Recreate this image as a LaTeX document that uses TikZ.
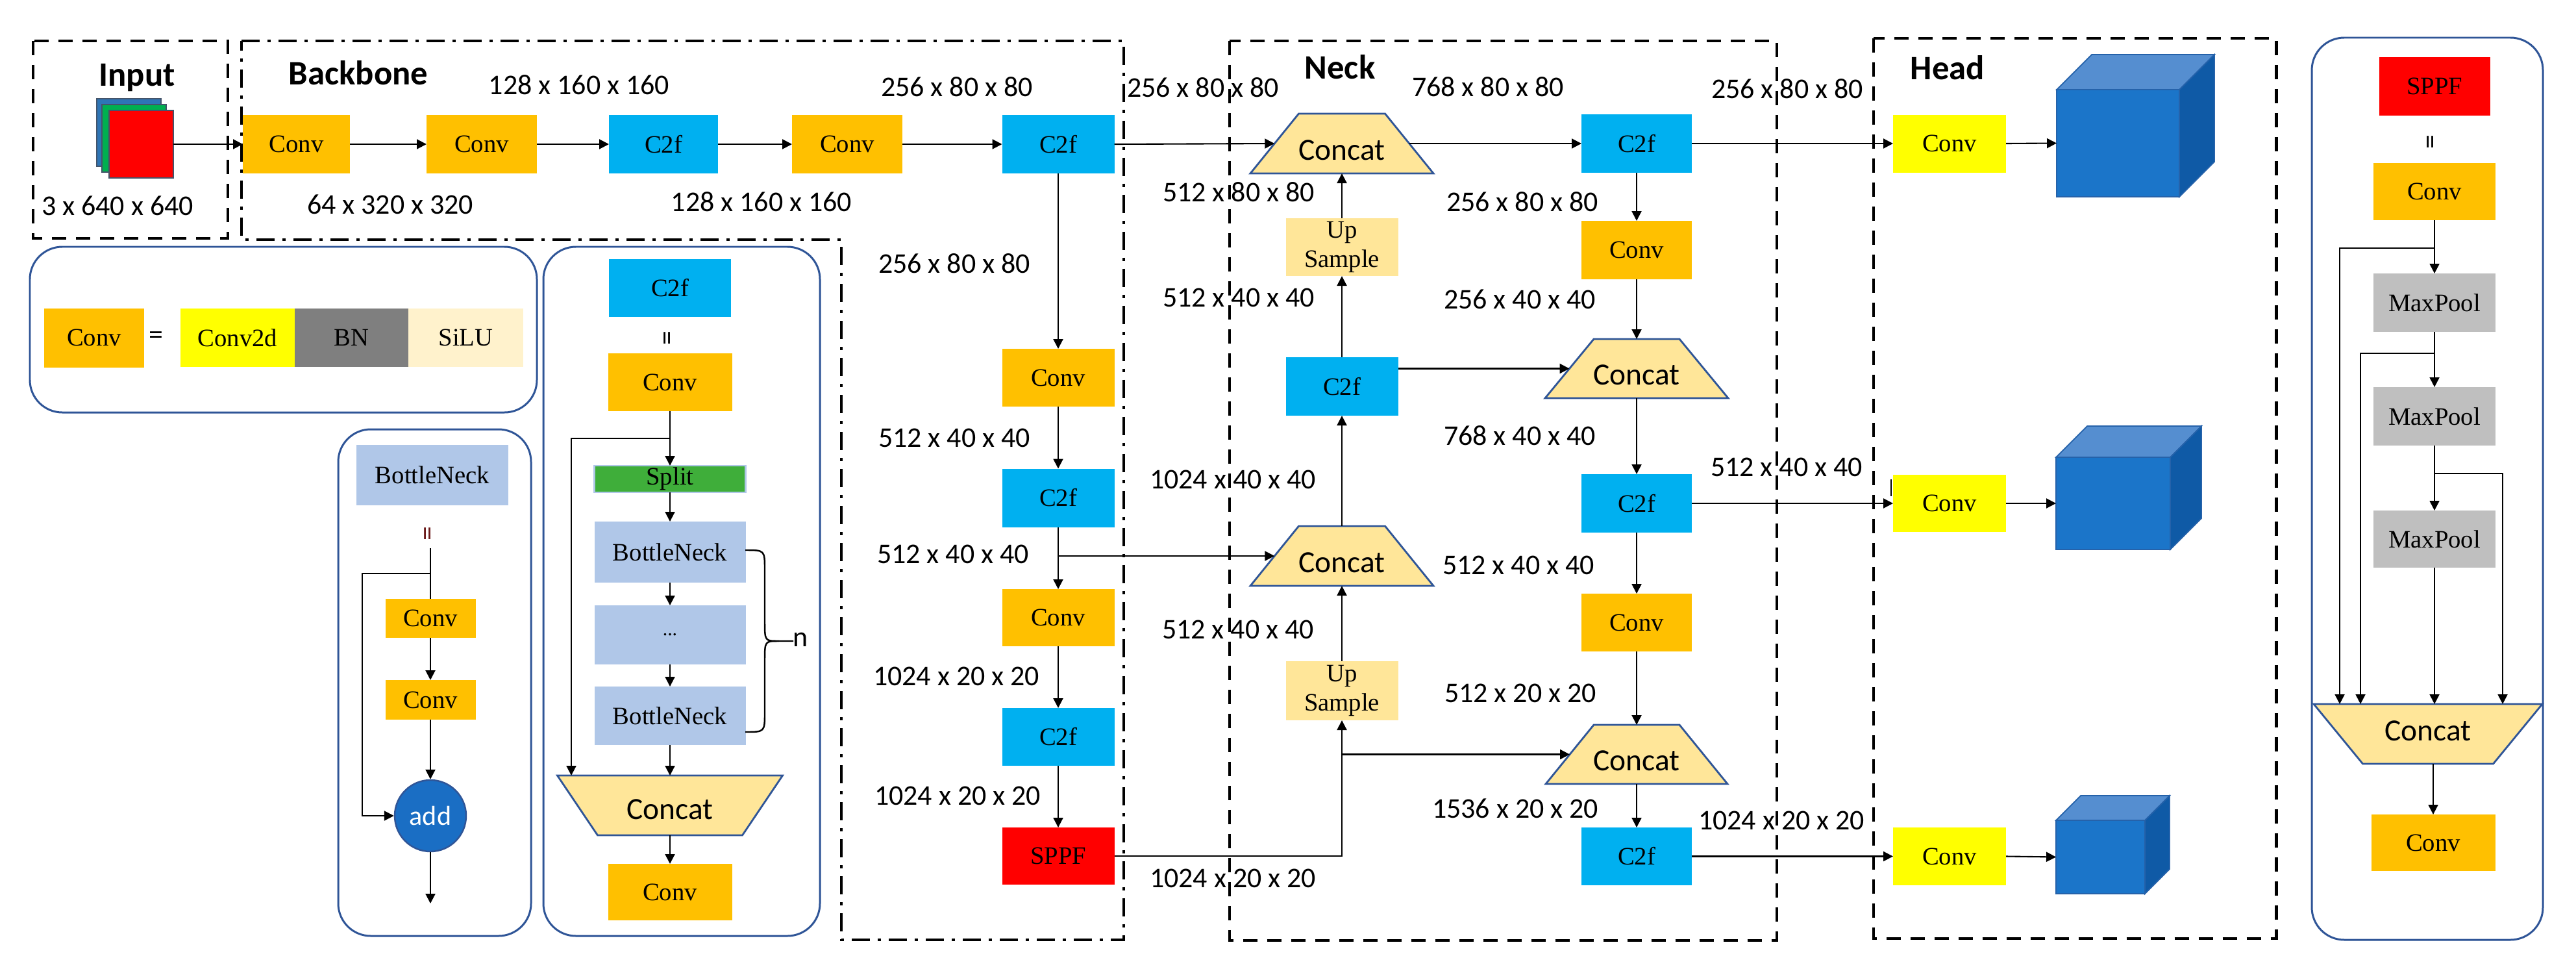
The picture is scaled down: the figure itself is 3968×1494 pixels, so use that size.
\documentclass[tikz,border=0pt]{standalone}
\usepackage{fontspec}
\setmainfont{Liberation Serif}
\newfontfamily\calib{Carlito}
\usetikzlibrary{arrows.meta}
\definecolor{convor}{HTML}{FFC000}
\definecolor{c2fb}{HTML}{00B0F0}
\definecolor{hyel}{HTML}{FFFF00}
\definecolor{sred}{HTML}{FF0000}
\definecolor{mpg}{HTML}{BFBFBF}
\definecolor{bng}{HTML}{7F7F7F}
\definecolor{silu}{HTML}{FFF2CC}
\definecolor{upf}{HTML}{FFE699}
\definecolor{bord}{HTML}{2F5597}
\definecolor{bnb}{HTML}{B0C7E8}
\definecolor{splg}{HTML}{3FAE3A}
\definecolor{addb}{HTML}{1A6EC4}
\definecolor{cubef}{HTML}{1B75C9}
\definecolor{cubet}{HTML}{558ED0}
\definecolor{cuber}{HTML}{0F5AA6}
\definecolor{cubee}{HTML}{2562AA}
\definecolor{inblue}{HTML}{2E75B6}
\definecolor{ingreen}{HTML}{00B050}
\definecolor{inedge}{HTML}{44546A}
\definecolor{eqred}{HTML}{6B1A1A}
\tikzset{
 bx/.style={rectangle, inner sep=0pt, outer sep=0pt, font=\fontsize{22}{26}\selectfont},
 wh/.style 2 args={minimum width=#1*0.02cm, minimum height=#2*0.02cm},
 convbox/.style={bx, fill=convor},
 c2fbox/.style={bx, fill=c2fb},
 hconvbox/.style={bx, fill=hyel},
 sppfbox/.style={bx, fill=sred},
 mpbox/.style={bx, fill=mpg},
 upbox/.style={bx, fill=upf, align=center},
 bnbox/.style={bx, fill=bnb},
 catshape/.style={fill=upf, draw=bord, line width=1.6pt, line join=miter},
 cattext/.style={inner sep=0pt, font=\calib\fontsize{27}{30}\selectfont},
 dim/.style={font=\calib\fontsize{25}{28}\selectfont, inner sep=0pt},
 ttl/.style={font=\calib\bfseries\fontsize{30}{34}\selectfont, inner sep=0pt, anchor=base},
 arr/.style={line width=1.2pt, -{Triangle[length=0.3cm,width=0.3cm]}},
 ln/.style={line width=1.2pt},
 frame/.style={line width=2.8pt, dash pattern=on 0.44cm off 0.3cm},
 dframe/.style={line width=2.8pt, dash pattern=on 0.56cm off 0.24cm on 0.1cm off 0.24cm},
 panel/.style={draw=bord, line width=1.7pt, rounded corners=1cm},
 eqv/.style={font=\calib\fontsize{25}{28}\selectfont, rotate=90, inner sep=0pt},
 instack/.style={rectangle, draw=inedge, line width=1pt, inner sep=0pt, outer sep=0pt, minimum width=99*0.02cm, minimum height=104*0.02cm},
 cubefront/.style={rectangle, fill=cubef, draw=cubee, line width=1pt, inner sep=0pt, outer sep=0pt},
}
% Concat trapezoid: name, cx, cy, top width, bottom width, height, text shift
\newcommand\catz[7]{%
  \fill[catshape] ({#2-#4/2},{#3-#6/2}) -- ({#2+#4/2},{#3-#6/2}) -- ({#2+#5/2},{#3+#6/2}) -- ({#2-#5/2},{#3+#6/2}) -- cycle;
  \node[rectangle, inner sep=0pt, outer sep=0pt, minimum width=20*0.02cm, minimum height=#6*0.02cm] (#1) at (#2,#3) {};
  \node[cattext] (#1-t) at (#2,{#3+#7}) {Concat};
  \coordinate (#1-l) at ({#2-(#4+#5)/4},#3);
  \coordinate (#1-r) at ({#2+(#4+#5)/4},#3);
}
\begin{document}
\begin{tikzpicture}[x=0.02cm,y=-0.02cm]
\useasboundingbox (0,0) rectangle (3968,1494);

% ---------- region frames ----------
\draw[frame] (51,63) rectangle (351,367);
\draw[dframe] (372,63) -- (1731,63) -- (1731,1447) -- (1296,1447) -- (1296,369) -- (372,369) -- cycle;
\draw[frame] (1894,63) rectangle (2737,1448);
\draw[frame] (2886,59) rectangle (3506,1445);

% ---------- titles ----------
\node[ttl] (tin) at (211,132) {Input};
\node[ttl] (tbb) at (552,130) {Backbone};
\node[ttl] (tnk) at (2064,121) {Neck};
\node[ttl] (thd) at (3000,122) {Head};

% ---------- input stack ----------
\node[instack, fill=inblue] (inb) at (198.5,204) {};
\node[instack, fill=ingreen] (ing) at (206.5,213) {};
\node[instack, fill=sred] (inr) at (217.5,222) {};

% ---------- backbone ----------
\node[convbox, wh={165}{90}] (bc1) at (456.5,222) {Conv};
\node[convbox, wh={170}{90}] (bc2) at (742,222) {Conv};
\node[c2fbox, wh={168}{90}] (bf1) at (1022,222) {C2f};
\node[convbox, wh={170}{90}] (bc3) at (1305,222) {Conv};
\node[c2fbox, wh={173}{90}] (bf2) at (1630,222) {C2f};
\node[convbox, wh={173}{89}] (bc4) at (1630,581.5) {Conv};
\node[c2fbox, wh={173}{90}] (bf3) at (1630,766.5) {C2f};
\node[convbox, wh={173}{88}] (bc5) at (1630,951) {Conv};
\node[c2fbox, wh={173}{89}] (bf4) at (1630,1134.5) {C2f};
\node[sppfbox, wh={173}{88}] (bsp) at (1630,1318) {SPPF};

\draw[arr] (inr.east) -- (bc1.west);
\draw[arr] (bc1) -- (bc2);
\draw[arr] (bc2) -- (bf1);
\draw[arr] (bf1) -- (bc3);
\draw[arr] (bc3) -- (bf2);
\draw[arr] (bf2) -- (bc4);
\draw[arr] (bc4) -- (bf3);
\draw[arr] (bf3) -- (bc5);
\draw[arr] (bc5) -- (bf4);
\draw[arr] (bf4) -- (bsp);

% ---------- neck ----------
\catz{nk1}{2067}{221}{133}{282}{92}{10}
\node[upbox, wh={173}{89}] (up1) at (2067,380.5) {Up\\Sample};
\node[c2fbox, wh={173}{90}] (nf1) at (2067,595) {C2f};
\catz{nk2}{2067}{856}{133}{282}{92}{10}
\node[upbox, wh={173}{91}] (up2) at (2067,1063.5) {Up\\Sample};

\node[c2fbox, wh={170}{90}] (nf2) at (2521,221) {C2f};
\node[convbox, wh={170}{90}] (nc1) at (2521,385) {Conv};
\catz{nk3}{2521}{567.5}{132}{282}{91}{10}
\node[c2fbox, wh={170}{90}] (nf3) at (2521,775) {C2f};
\node[convbox, wh={170}{89}] (nc2) at (2521,958.5) {Conv};
\catz{nk4}{2521}{1161.5}{132}{280}{91}{10}
\node[c2fbox, wh={170}{89}] (nf4) at (2521,1318.5) {C2f};

\draw[arr] (bf2.east) -- (nk1-l);
\draw[arr] (nk1-r) -- (nf2.west);
\draw[arr] (nf2) -- (nc1);
\draw[arr] (nc1.south) -- (nk3.north);
\draw[arr] (nk3.south) -- (nf3.north);
\draw[arr] (nf3) -- (nc2);
\draw[arr] (nc2.south) -- (nk4.north);
\draw[arr] (nk4.south) -- (nf4.north);
\draw[arr] (nf1.north) -- (up1.south);
\draw[arr] (up1.north) -- (nk1.south);
\draw[arr] (nk2.north) -- (nf1.south);
\draw[arr] (up2.north) -- (nk2.south);
\coordinate (j2) at (1630,856);
\draw[arr] (j2) -- (nk2-l);
\draw[arr] (nf1.east |- nk3-l) -- (nk3-l);
\draw[arr] (bsp.east) -| (up2.south);
\coordinate (j3) at (2067,1161.5);
\draw[arr] (j3) -- (nk4-l);

% ---------- head ----------
\node[hconvbox, wh={174}{89}] (hc1) at (3003,221) {Conv};
\node[hconvbox, wh={174}{88}] (hc2) at (3003,775) {Conv};
\node[hconvbox, wh={174}{89}] (hc3) at (3003,1318.5) {Conv};
\draw[arr] (nf2.east) -- (hc1.west);
\draw[arr] (nf3.east) -- (hc2.west);
\draw[arr] (nf4.east) -- (hc3.west);
\draw[line width=1.5pt] (2913,738) -- (2913,764);

\node[cubefront, wh={189}{165}] (cb1) at (3262.5,220.5) {};
\fill[cubet, draw=cubee, line width=1pt] (cb1.north west) -- ++(54,-54) -- ++(189,0) -- (cb1.north east) -- cycle;
\fill[cuber, draw=cubee, line width=1pt] (cb1.north east) -- ++(54,-54) -- ++(0,165) -- (cb1.south east) -- cycle;
\node[cubefront, wh={176}{142}] (cb2) at (3255,775) {};
\fill[cubet, draw=cubee, line width=1pt] (cb2.north west) -- ++(48,-48) -- ++(176,0) -- (cb2.north east) -- cycle;
\fill[cuber, draw=cubee, line width=1pt] (cb2.north east) -- ++(48,-48) -- ++(0,142) -- (cb2.south east) -- cycle;
\node[cubefront, wh={137}{113}] (cb3) at (3235.5,1319.5) {};
\fill[cubet, draw=cubee, line width=1pt] (cb3.north west) -- ++(38,-38) -- ++(137,0) -- (cb3.north east) -- cycle;
\fill[cuber, draw=cubee, line width=1pt] (cb3.north east) -- ++(38,-38) -- ++(0,113) -- (cb3.south east) -- cycle;
\draw[arr] (hc1.east) -- (cb1.west);
\draw[arr] (hc2.east) -- (cb2.west);
\draw[arr] (hc3.east) -- (cb3.west);

% ---------- dimension labels ----------
\node[dim] (d1) at (181,317) {3 x 640 x 640};
\node[dim] (d2) at (601,315) {64 x 320 x 320};
\node[dim] (d3) at (892,131) {128 x 160 x 160};
\node[dim] (d4) at (1173,311) {128 x 160 x 160};
\node[dim] (d5) at (1474,134) {256 x 80 x 80};
\node[dim] (d6) at (1853,135) {256 x 80 x 80};
\node[dim] (d7) at (1470,406) {256 x 80 x 80};
\node[dim] (d8) at (1470,674) {512 x 40 x 40};
\node[dim] (d9) at (1468,853) {512 x 40 x 40};
\node[dim] (d10) at (1473,1041) {1024 x 20 x 20};
\node[dim] (d11) at (1475,1225) {1024 x 20 x 20};
\node[dim] (d12) at (1908,296) {512 x 80 x 80};
\node[dim] (d13) at (1908,458) {512 x 40 x 40};
\node[dim] (d14) at (1899,738) {1024 x 40 x 40};
\node[dim] (d15) at (1907,969) {512 x 40 x 40};
\node[dim] (d16) at (1899,1352) {1024 x 20 x 20};
\node[dim] (d17) at (2292,134) {768 x 80 x 80};
\node[dim] (d18) at (2345,311) {256 x 80 x 80};
\node[dim] (d19) at (2341,461) {256 x 40 x 40};
\node[dim] (d20) at (2341,671) {768 x 40 x 40};
\node[dim] (d21) at (2339,870) {512 x 40 x 40};
\node[dim] (d22) at (2342,1067) {512 x 20 x 20};
\node[dim] (d23) at (2334,1245) {1536 x 20 x 20};
\node[dim] (d24) at (2753,137) {256 x 80 x 80};
\node[dim] (d25) at (2752,719) {512 x 40 x 40};
\node[dim] (d26) at (2744,1263) {1024 x 20 x 20};

% ---------- legend panel ----------
\draw[panel] (46,380) rectangle (827,635);
\node[convbox, wh={154}{91}] (lc) at (145,520) {Conv};
\node[font=\calib\fontsize{25}{28}\selectfont, inner sep=0pt] (leq) at (240,520) {=};
\node[bx, fill=hyel, wh={176}{90}] (l2d) at (366,520) {Conv2d};
\node[bx, fill=bng, wh={175}{90}] (lbn) at (541.5,520) {BN};
\node[bx, fill=silu, wh={177}{90}] (lsi) at (717.5,520) {SiLU};

% ---------- bottleneck panel ----------
\draw[panel] (521,661) rectangle (818,1441);
\node[bnbox, wh={234}{93}] (bh) at (666,731.5) {BottleNeck};
\node[eqv, text=eqred] (be) at (663,822) {=};
\node[convbox, wh={139}{60}] (b1) at (663,952) {Conv};
\node[convbox, wh={139}{61}] (b2) at (663,1077.5) {Conv};
\node[circle, fill=addb, draw=bord, line width=1.4pt, minimum size=110*0.02cm, inner sep=0pt, text=white, font=\calib\fontsize{24}{26}\selectfont] (add) at (663,1256) {add};
\coordinate (bs) at (663,844);
\coordinate (bj) at (663,883);
\coordinate (bl) at (558,1256);
\coordinate (bo) at (663,1391);
\draw[ln] (bs) -- (b1.north);
\draw[arr] (bj) -| (bl) -- (add.west);
\draw[arr] (b1) -- (b2);
\draw[arr] (b2) -- (add);
\draw[arr] (add) -- (bo);

% ---------- C2f panel ----------
\draw[panel] (837,380) rectangle (1263,1441);
\node[c2fbox, wh={188}{89}] (ch) at (1032,443.5) {C2f};
\node[eqv] (ce) at (1032,521) {=};
\node[convbox, wh={191}{89}] (cc1) at (1032,588.5) {Conv};
\node[bx, fill=splg, draw=bnb, line width=1.5pt, wh={233}{41}] (csp) at (1032,737.5) {Split};
\node[bnbox, wh={233}{94}] (cb1n) at (1032,850) {BottleNeck};
\node[bnbox, wh={233}{91}] (cbd) at (1032,977.5) {\fontsize{17}{20}\selectfont ...};
\node[bnbox, wh={233}{90}] (cb2n) at (1032,1102) {BottleNeck};
\catz{ck}{1032}{1240}{347}{223}{92}{6}
\node[convbox, wh={191}{87}] (cc2) at (1032,1373.5) {Conv};
\draw[arr] (cc1) -- (csp);
\draw[arr] (csp) -- (cb1n);
\draw[arr] (cb1n) -- (cbd);
\draw[arr] (cbd) -- (cb2n);
\draw[arr] (cb2n.south) -- (ck.north);
\draw[arr] (ck.south) -- (cc2.north);
\coordinate (cj) at (1032,675);
\coordinate (cl) at (880,1194);
\draw[arr] (cj) -| (cl);
\draw[ln, line width=1.4pt] (1148,847) .. controls (1178,847) .. (1178,877) -- (1178,957) .. controls (1178,987) .. (1200,987) -- (1222,987);
\draw[ln, line width=1.4pt] (1200,987) .. controls (1178,987) .. (1178,1017) -- (1178,1097) .. controls (1178,1127) .. (1148,1127);
\node[font=\calib\fontsize{25}{28}\selectfont, inner sep=0pt, anchor=west] (nn) at (1221,985) {n};

% ---------- SPPF panel ----------
\draw[panel] (3561,58) rectangle (3917,1447);
\node[sppfbox, wh={171}{90}] (ps) at (3750,133) {SPPF};
\node[eqv] (pe) at (3748,219) {=};
\node[convbox, wh={188}{88}] (pc1) at (3750,295) {Conv};
\node[mpbox, wh={188}{90}] (pm1) at (3750,466) {MaxPool};
\node[mpbox, wh={188}{90}] (pm2) at (3750,641) {MaxPool};
\node[mpbox, wh={188}{88}] (pm3) at (3750,830) {MaxPool};
\catz{pk}{3740}{1130}{352}{201}{92}{-5}
\node[convbox, wh={191}{87}] (pc2) at (3748,1297.5) {Conv};
\draw[arr] (pc1) -- (pm1);
\draw[arr] (pm1) -- (pm2);
\draw[arr] (pm2) -- (pm3);
\draw[arr] (pm3.south) -- (pm3.south |- pk.north);
\draw[arr] (pc2.north |- pk.south) -- (pc2.north);
\coordinate (sj1) at (3750,382);
\coordinate (se1) at (3604,1084);
\draw[arr] (sj1) -| (se1);
\coordinate (sj2) at (3750,544);
\coordinate (se2) at (3636,1084);
\draw[arr] (sj2) -| (se2);
\coordinate (sj3) at (3750,729);
\coordinate (se3) at (3855,1084);
\draw[arr] (sj3) -| (se3);
\end{tikzpicture}
\end{document}
